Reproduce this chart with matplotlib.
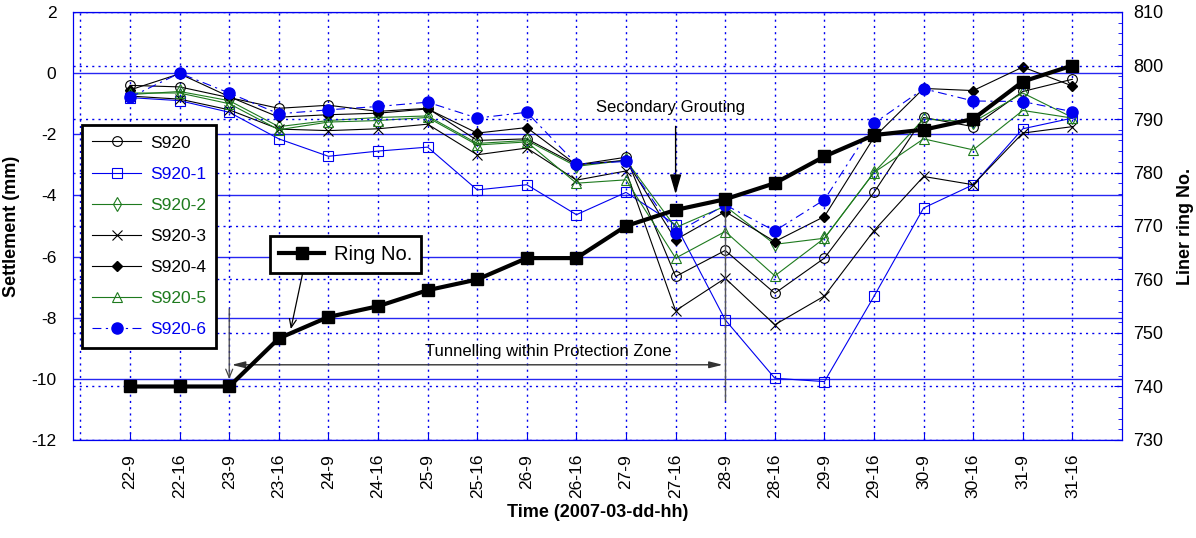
import matplotlib
matplotlib.use("Agg")
import matplotlib.pyplot as plt
from matplotlib.ticker import MultipleLocator

plt.rcParams['font.family'] = ['Liberation Sans', 'DejaVu Sans']
plt.rcParams['axes.unicode_minus'] = False

# time steps (day-hour)
times = ['22-9', '22-16', '23-9', '23-16', '24-9', '24-16', '25-9', '25-16', '26-9', '26-16',
         '27-9', '27-16', '28-9', '28-16', '29-9', '29-16', '30-9', '30-16', '31-9', '31-16']

# settlement readings (mm)
s920 = [-0.4, -0.45, -0.8, -1.15, -1.05, -1.25, -1.15, -2.2, -2.15, -3.0,
        -2.75, -6.65, -5.8, -7.2, -6.05, -3.9, -1.45, -1.75, -0.6, -0.2]
s920_1 = [-0.8, -0.9, -1.28, -2.15, -2.72, -2.55, -2.42, -3.82, -3.65, -4.63,
          -3.9, -4.96, -8.07, -9.98, -10.09, -7.3, -4.41, -3.65, -1.82, -1.47]
s920_2 = [-0.7, -0.6, -0.9, -1.75, -1.55, -1.45, -1.4, -2.3, -2.2, -3.05,
          -2.85, -5.05, -4.35, -5.6, -5.4, -3.25, -1.5, -1.6, -0.65, -1.45]
s920_3 = [-0.75, -0.85, -1.2, -1.83, -1.88, -1.82, -1.67, -2.67, -2.45, -3.5,
          -3.2, -7.77, -6.71, -8.23, -7.29, -5.15, -3.38, -3.65, -1.96, -1.75]
s920_4 = [-0.55, -0.02, -0.77, -1.44, -1.36, -1.31, -1.17, -1.96, -1.78, -3.0,
          -2.85, -5.45, -4.53, -5.51, -4.69, -2.1, -0.5, -0.57, 0.2, -0.42]
s920_5 = [-0.65, -0.65, -1.0, -1.85, -1.6, -1.55, -1.45, -2.35, -2.25, -3.6,
          -3.49, -6.05, -5.18, -6.63, -5.4, -3.25, -2.15, -2.51, -1.22, -1.47]
s920_6 = [-0.79, 0.0, -0.65, -1.33, -1.2, -1.09, -0.95, -1.47, -1.28, -2.97,
          -2.89, -5.23, -4.31, -5.16, -4.14, -1.64, -0.51, -0.91, -0.93, -1.26]

# liner ring number
ring = [740, 740, 740, 749, 753, 755, 758, 760, 764, 764,
        770, 773, 775, 778, 783, 787, 788, 790, 797, 800]

BLUE = '#0000f0'
GREEN = '#1e7a1e'
x = list(range(len(times)))

fig = plt.figure(figsize=(11.96, 5.38), dpi=100)
ax = fig.add_axes([73 / 1196, 1 - 440 / 538, 1049 / 1196, 428 / 538])

ax.plot(x, s920, color='black', lw=0.8, marker='o', ms=7, mfc='none', mew=0.8, label='S920')
ax.plot(x, s920_1, color=BLUE, lw=0.8, marker='s', ms=7.5, mfc='none', mew=0.8, label='S920-1')
ax.plot(x, s920_2, color=GREEN, lw=0.8, marker='d', ms=7, mfc='none', mew=0.8, label='S920-2')
ax.plot(x, s920_3, color='black', lw=0.8, marker='x', ms=7, mew=0.8, label='S920-3')
ax.plot(x, s920_4, color='black', lw=0.8, marker='D', ms=5.5, label='S920-4')
ax.plot(x, s920_5, color=GREEN, lw=0.8, marker='^', ms=7, mfc='none', mew=0.8, label='S920-5')
ax.plot(x, s920_6, color=BLUE, lw=0.8, marker='o', ms=8, dashes=(8, 4, 2, 4), label='S920-6')

ax.set_xlim(-1.15, 20)
ax.set_ylim(-12, 2)
ax.yaxis.set_major_locator(MultipleLocator(2))
ax.set_xticks(x)
ax.set_xticklabels(times, rotation=90, fontsize=12.5)
ax.tick_params(axis='x', direction='in', color=BLUE, length=6, pad=10)
ax.tick_params(axis='y', length=0, labelsize=12.5, pad=12)
ax.yaxis.grid(True, color=BLUE, lw=1.0, alpha=0.85)
ax.xaxis.grid(True, color=BLUE, lw=1.0, ls=(0, (1.5, 3)))
ax.axvline(-1, color=BLUE, lw=1.0, ls=(0, (1.5, 3)))
for s in ax.spines.values():
    s.set_color(BLUE)
ax.set_xlabel('Time (2007-03-dd-hh)', fontsize=13, fontweight='bold', labelpad=4)
ax.set_ylabel('Settlement (mm)', fontsize=13, fontweight='bold', labelpad=8)

ax2 = ax.twinx()
ring_line, = ax2.plot(x, ring, color='black', lw=3, marker='s', ms=8, label='Ring No.')
ax2.set_ylim(730, 810)
ax2.yaxis.set_major_locator(MultipleLocator(10))
ax2.yaxis.set_minor_locator(MultipleLocator(2))
ax2.tick_params(axis='y', which='major', direction='in', color=BLUE, length=6, labelsize=13, pad=8)
ax2.tick_params(axis='y', which='minor', direction='in', color=BLUE, length=3)
ax2.yaxis.grid(True, color=BLUE, lw=1.0, ls=(0, (1.5, 3)))
for s in ax2.spines.values():
    s.set_color(BLUE)
ax2.set_ylabel('Liner ring No.', fontsize=13, fontweight='bold', labelpad=10)

# legends sit on the top axes so grid lines do not show through
handles, labels = ax.get_legend_handles_labels()
leg = ax2.legend(handles, labels, loc='upper left', bbox_to_anchor=(0.0086, 0.736), borderaxespad=0,
                 fontsize=12.5, labelspacing=0.92, handlelength=2.8, handletextpad=0.5,
                 fancybox=False, edgecolor='black', framealpha=1, labelcolor='linecolor',
                 borderpad=0.6)
leg.get_frame().set_linewidth(2)
ax2.add_artist(leg)

leg2 = ax2.legend(handles=[ring_line], loc='center', bbox_to_anchor=(0.26, 0.433),
                  fontsize=14.5, handlelength=2.2, handletextpad=0.5, fancybox=False,
                  edgecolor='black', framealpha=1, borderpad=0.45)
leg2.get_frame().set_linewidth(2)

# annotations (settlement axis coordinates)
ax.annotate('', xy=(11.0, -4.05), xytext=(11.0, -1.65),
            arrowprops=dict(arrowstyle='-|>,head_length=1.2,head_width=0.35', color='black', lw=1))
ax.text(10.9, -1.14, 'Secondary Grouting', fontsize=12, ha='center', va='center')

ax.annotate('', xy=(3.23, -8.46), xytext=(3.49, -6.47),
            arrowprops=dict(arrowstyle='->,head_length=0.6,head_width=0.25', color='black', lw=0.9))

ax.annotate('', xy=(2.05, -9.54), xytext=(11.95, -9.54),
            arrowprops=dict(arrowstyle='<|-|>,head_length=0.8,head_width=0.2',
                            color='#333333', lw=1, shrinkA=0, shrinkB=0))
ax.text(8.43, -9.12, 'Tunnelling within Protection Zone', fontsize=12, ha='center', va='center')
ax.annotate('', xy=(2.0, -10.1), xytext=(2.0, -7.62),
            arrowprops=dict(arrowstyle='->,head_length=0.6,head_width=0.25', color='#444444', lw=0.9))
ax.plot([12, 12], [-3.95, -10.7], color='#555555', lw=1)

fig.savefig('out.png', dpi=100)
